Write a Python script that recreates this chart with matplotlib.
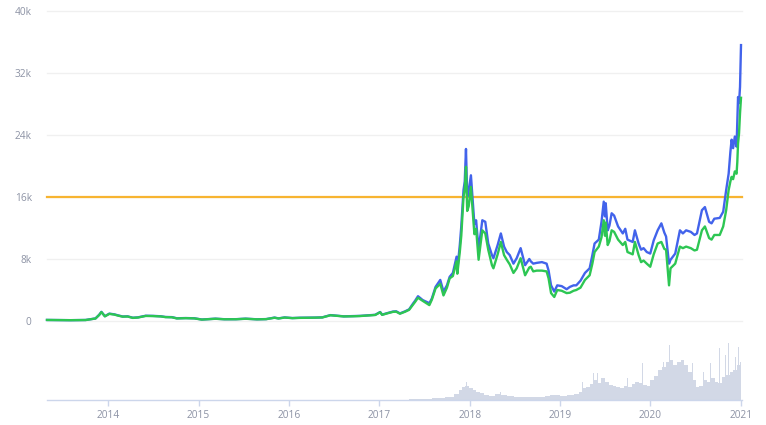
import matplotlib
matplotlib.use("Agg")
import matplotlib.pyplot as plt
import pandas as pd

# ---------------- data ----------------
price_dates = [
    "2013-04-28", "2013-06-01", "2013-08-01", "2013-10-01", "2013-11-10", "2013-11-25",
    "2013-12-04", "2013-12-18", "2014-01-05", "2014-01-25", "2014-02-10", "2014-02-28",
    "2014-03-20", "2014-04-10", "2014-05-01", "2014-06-01", "2014-07-01", "2014-08-01",
    "2014-08-20", "2014-09-15", "2014-10-05", "2014-11-10", "2014-12-15", "2015-01-14",
    "2015-02-10", "2015-03-10", "2015-04-15", "2015-06-01", "2015-07-10", "2015-08-25",
    "2015-10-01", "2015-11-04", "2015-11-20", "2015-12-15", "2016-01-15", "2016-02-15",
    "2016-03-15", "2016-04-15", "2016-05-15", "2016-06-17", "2016-07-15", "2016-08-10",
    "2016-09-15", "2016-10-15", "2016-11-15", "2016-12-15", "2017-01-04", "2017-01-12",
    "2017-02-01", "2017-02-25", "2017-03-10", "2017-03-25", "2017-04-15", "2017-05-01",
    "2017-05-18", "2017-05-25", "2017-06-06", "2017-06-25", "2017-07-22", "2017-08-01",
    "2017-08-16", "2017-09-04", "2017-09-17", "2017-10-01", "2017-10-12", "2017-10-25",
    "2017-11-09", "2017-11-12", "2017-11-22", "2017-11-28", "2017-12-07", "2017-12-12",
    "2017-12-17", "2017-12-22", "2017-12-28", "2018-01-06", "2018-01-15", "2018-01-20",
    "2018-01-27", "2018-02-06", "2018-02-21", "2018-03-05", "2018-03-17", "2018-04-01",
    "2018-04-07", "2018-04-24", "2018-05-07", "2018-05-20", "2018-05-31", "2018-06-12",
    "2018-06-27", "2018-07-10", "2018-07-26", "2018-08-05", "2018-08-13", "2018-08-30",
    "2018-09-05", "2018-09-15", "2018-09-29", "2018-10-20", "2018-11-08", "2018-11-16",
    "2018-11-26", "2018-12-09", "2018-12-21", "2019-01-08", "2019-01-28", "2019-02-10",
    "2019-02-25", "2019-03-08", "2019-03-25", "2019-04-12", "2019-05-01", "2019-05-12",
    "2019-05-21", "2019-06-07", "2019-06-18", "2019-06-27", "2019-07-02", "2019-07-05",
    "2019-07-13", "2019-07-20", "2019-07-29", "2019-08-08", "2019-08-24", "2019-09-12",
    "2019-09-22", "2019-10-01", "2019-10-22", "2019-10-31", "2019-11-15", "2019-11-25",
    "2019-12-05", "2019-12-18", "2020-01-01", "2020-01-15", "2020-01-31", "2020-02-15",
    "2020-02-27", "2020-03-05", "2020-03-17", "2020-03-23", "2020-04-11", "2020-04-30",
    "2020-05-12", "2020-05-25", "2020-06-13", "2020-06-28", "2020-07-08", "2020-07-28",
    "2020-08-09", "2020-08-26", "2020-09-05", "2020-09-16", "2020-10-08", "2020-10-22",
    "2020-11-03", "2020-11-13", "2020-11-20", "2020-11-25", "2020-12-01", "2020-12-08",
    "2020-12-15", "2020-12-18", "2020-12-21", "2020-12-25", "2020-12-29", "2021-01-02",
]
price_blue = [
    135, 125, 105, 130, 330, 800,
    1180, 620, 950, 860, 720, 580,
    600, 420, 470, 680, 660, 610,
    520, 500, 350, 380, 350, 190,
    240, 300, 230, 235, 300, 220,
    245, 440, 340, 460, 380, 420,
    425, 440, 470, 760, 680, 600,
    625, 660, 730, 800, 1160, 820,
    1010, 1220, 1250, 980, 1250, 1500,
    2300, 2600, 3200, 2700, 2300, 2900,
    4400, 5300, 3800, 4600, 5700, 6200,
    8300, 6600, 9800, 12200, 16900, 18000,
    22200, 16000, 16800, 18800, 14700, 12500,
    13000, 9200, 13000, 12800, 10000, 8500,
    8100, 9800, 11300, 9600, 8900, 8500,
    7400, 8100, 9400, 8200, 7200, 8000,
    7700, 7400, 7500, 7600, 7400, 6500,
    4600, 3800, 4600, 4500, 4100, 4400,
    4600, 4600, 5200, 6200, 6800, 8500,
    10000, 10500, 12800, 15400, 13500, 15200,
    11700, 12300, 13900, 13600, 12200, 11300,
    11900, 10500, 10200, 11700, 10000, 9200,
    9400, 8900, 8700, 10400, 11700, 12600,
    11400, 10900, 7400, 7900, 8700, 11700,
    11300, 11700, 11500, 11100, 11300, 14300,
    14700, 12800, 12600, 13200, 13300, 14100,
    16900, 19000, 21800, 23400, 22300, 23800,
    22500, 25500, 28900, 28100, 30200, 35600,
]
price_green = [
    134, 122, 104, 125, 320, 780,
    1150, 600, 920, 830, 690, 560,
    580, 400, 450, 650, 635, 590,
    500, 480, 330, 365, 335, 180,
    230, 290, 222, 225, 290, 212,
    238, 420, 325, 445, 370, 405,
    415, 430, 455, 740, 660, 590,
    608, 640, 710, 775, 1130, 790,
    980, 1180, 1200, 940, 1200, 1440,
    2150, 2450, 3000, 2600, 2050, 2750,
    4200, 4800, 3300, 4300, 5500, 5800,
    7700, 6100, 8900, 11000, 16000, 17000,
    19900, 14200, 14800, 17300, 13500, 11200,
    11900, 7900, 11700, 11300, 9200, 7200,
    6800, 8600, 10200, 8500, 7900, 7300,
    6200, 6800, 8100, 6900, 5900, 6900,
    7000, 6400, 6500, 6500, 6400, 5500,
    3600, 3100, 4000, 3900, 3600, 3650,
    3900, 4000, 4300, 5300, 5900, 7400,
    8900, 9600, 10800, 13000, 11000, 12700,
    9800, 10300, 11700, 11500, 10500, 9800,
    10200, 8900, 8600, 10200, 8500, 7600,
    7800, 7400, 7000, 8600, 10000, 10200,
    9300, 9200, 4600, 6800, 7400, 9600,
    9400, 9600, 9400, 9100, 9200, 11700,
    12200, 10700, 10500, 11100, 11100, 12200,
    14300, 16900, 18000, 18600, 18300, 19300,
    19000, 20500, 22900, 24200, 26800, 28800,
]

vol_dates = [
    "2017-05-01", "2017-07-01", "2017-09-01", "2017-10-15", "2017-11-10", "2017-11-25",
    "2017-12-08", "2017-12-20", "2018-01-05", "2018-01-20", "2018-02-05", "2018-02-20",
    "2018-03-10", "2018-04-01", "2018-04-25", "2018-05-15", "2018-06-15", "2018-07-15",
    "2018-08-15", "2018-09-15", "2018-10-15", "2018-11-15", "2018-12-01", "2018-12-20",
    "2019-01-15", "2019-02-15", "2019-03-10", "2019-03-25", "2019-04-10", "2019-04-25",
    "2019-05-10", "2019-05-25", "2019-06-10", "2019-06-25", "2019-07-10", "2019-07-25",
    "2019-08-10", "2019-08-25", "2019-09-10", "2019-09-25", "2019-10-10", "2019-10-25",
    "2019-11-10", "2019-11-25", "2019-12-10", "2019-12-25", "2020-01-10", "2020-01-25",
    "2020-02-10", "2020-02-25", "2020-03-10", "2020-03-25", "2020-04-10", "2020-04-25",
    "2020-05-10", "2020-05-25", "2020-06-10", "2020-06-25", "2020-07-10", "2020-07-25",
    "2020-08-10", "2020-08-25", "2020-09-10", "2020-09-25", "2020-10-10", "2020-10-25",
    "2020-11-10", "2020-11-25", "2020-12-10", "2020-12-25", "2021-01-02",
]
vol_values = [
    1, 1.5, 2, 3, 6, 10,
    13, 14, 12, 10, 8, 7,
    5, 4.5, 6, 5, 4, 3.5,
    3.5, 3, 3, 4, 5, 5,
    4, 5, 6, 8, 12, 13,
    16, 20, 17, 22, 18, 15,
    14, 13, 12, 14, 13, 16,
    18, 17, 15, 14, 20, 24,
    30, 33, 38, 40, 35, 38,
    40, 35, 28, 20, 13, 14,
    20, 18, 22, 18, 17, 23,
    25, 28, 30, 35, 38,
]
spike_dates = [
    "2017-12-08", "2017-12-20", "2018-05-05", "2019-04-03", "2019-05-16", "2019-06-01",
    "2019-06-29", "2019-07-15", "2019-08-20", "2019-10-02", "2019-10-31", "2019-11-30",
    "2020-01-05", "2020-01-21", "2020-02-23", "2020-03-18", "2020-04-01", "2020-04-15",
    "2020-05-08", "2020-05-28", "2020-06-05", "2020-06-20", "2020-08-03", "2020-09-01",
    "2020-09-22", "2020-10-07", "2020-10-25", "2020-11-01", "2020-11-13", "2020-12-01",
    "2020-12-10", "2020-12-22", "2021-01-01",
]
spike_values = [
    17, 18, 8, 18, 27, 27,
    33, 23, 20, 22, 37, 37,
    33, 35, 38, 55, 43, 38,
    57, 48, 50, 37, 28, 37,
    60, 52, 52, 45, 57, 45,
    43, 53, 52,
]

reference_level = 16000
y_ticks = [0, 8000, 16000, 24000, 32000, 40000]
y_labels = ["0", "8k", "16k", "24k", "32k", "40k"]
x_ticks = ["2014-01-01", "2015-01-01", "2016-01-01", "2017-01-01",
           "2018-01-01", "2019-01-01", "2020-01-01", "2021-01-01"]
x_labels = ["2014", "2015", "2016", "2017", "2018", "2019", "2020", "2021"]

# ---------------- styling ----------------
FONT = "Open Sans"
LABEL_C = "#8c92a4"
AXIS_C = "#ccd6eb"
GRID_C = "#f0f0f0"
BLUE = "#4263eb"
GREEN = "#2dc653"
ORANGE = "#f7b431"
VOL_C = "#d2d8e6"

W, H = 766, 425
fig = plt.figure(figsize=(W / 100, H / 100), dpi=100)

left = 47 / W
width = (742 - 47) / W
ax = fig.add_axes([left, (H - 321) / H, width, (321 - 11) / H])
axv = fig.add_axes([left, (H - 400) / H, width, (400 - 335) / H], sharex=ax)

pdates = pd.to_datetime(price_dates)
xmin = pd.Timestamp("2013-04-28")
xmax = pd.Timestamp("2021-01-06")

# price pane
for yt in y_ticks:
    ax.axhline(yt, color=GRID_C, lw=1.0, zorder=0)
ax.axhline(reference_level, color=ORANGE, lw=1.6, zorder=2)
ax.plot(pdates, price_blue, color=BLUE, lw=1.7, zorder=3, solid_joinstyle="round")
ax.plot(pdates, price_green, color=GREEN, lw=1.7, zorder=4, solid_joinstyle="round")
ax.set_ylim(0, 40000)
ax.set_xlim(xmin, xmax)
ax.set_yticks(y_ticks)
ax.set_yticklabels(y_labels, fontfamily=FONT, fontsize=7.3, color=LABEL_C)
ax.tick_params(axis="y", length=0, pad=11)
ax.tick_params(axis="x", length=0, labelbottom=False)
for s in ax.spines.values():
    s.set_visible(False)
for line in ax.lines:
    line.set_clip_on(False)

# volume pane
vdates = pd.to_datetime(vol_dates)
axv.fill_between(vdates, 0, vol_values, step="mid", color=VOL_C, lw=0, zorder=1)
sdates = pd.to_datetime(spike_dates)
axv.bar(sdates, spike_values, width=2.0, color=VOL_C, lw=0, zorder=1)
axv.set_ylim(0, 65)
axv.set_yticks([])
for k in ("left", "right", "top"):
    axv.spines[k].set_visible(False)
axv.spines["bottom"].set_color(AXIS_C)
axv.spines["bottom"].set_linewidth(1.0)
axv.set_xticks(pd.to_datetime(x_ticks))
axv.set_xticklabels(x_labels, fontfamily=FONT, fontsize=7.3, color=LABEL_C)
axv.tick_params(axis="x", length=4, width=1.0, color=AXIS_C, pad=3)
axv.set_xlim(xmin, xmax)

fig.savefig("out.png", dpi=100, facecolor="white")
